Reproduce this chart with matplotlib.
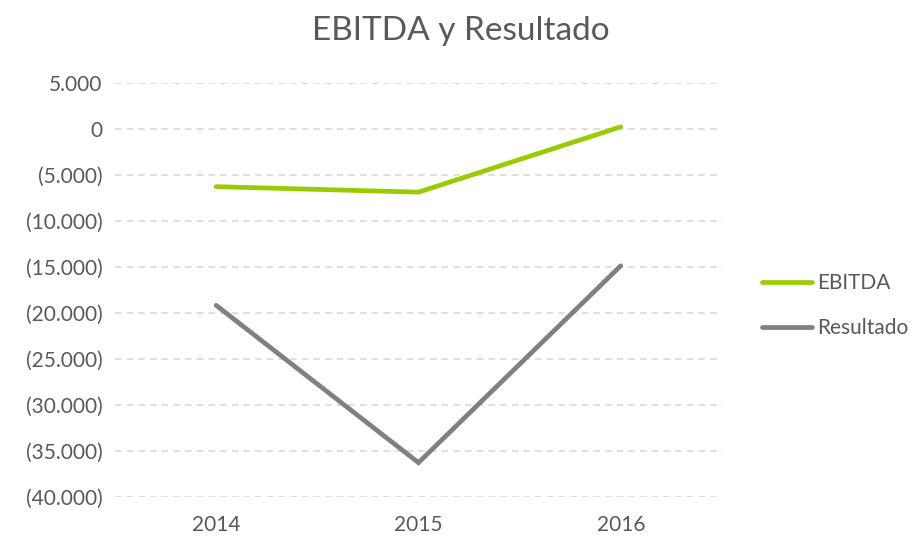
import matplotlib.pyplot as plt
from matplotlib.ticker import FuncFormatter

# data
years = ['2014', '2015', '2016']
ebitda = [-6300, -6900, 200]
resultado = [-19200, -36300, -14900]

TEXT = '#595959'
GREEN = '#99CC00'
GRAY = '#808080'

plt.rcParams['font.family'] = ['Lato', 'DejaVu Sans']


def fmt_es(v, pos):
    # spanish thousands separator, negatives in brackets
    s = f"{abs(int(round(v))):,}".replace(',', '.')
    return f"({s})" if v < 0 else s


fig = plt.figure(figsize=(9.22, 5.39), dpi=100)
ax = fig.add_axes([0.1247, 0.0785, 0.6583, 0.7681])

x = range(len(years))
ax.plot(x, ebitda, color=GREEN, lw=3.4, solid_capstyle='round', solid_joinstyle='miter', label='EBITDA')
ax.plot(x, resultado, color=GRAY, lw=3.4, solid_capstyle='round', solid_joinstyle='miter', label='Resultado')

ax.set_xlim(-0.5, 2.5)
ax.set_ylim(-40000, 5000)
ax.set_yticks(range(-40000, 5001, 5000))
ax.yaxis.set_major_formatter(FuncFormatter(fmt_es))
ax.set_xticks(list(x))
ax.set_xticklabels(years)

ax.grid(axis='y', color='#D9D9D9', lw=1.2, ls=(0, (4, 3)))
ax.set_axisbelow(True)
for sp in ax.spines.values():
    sp.set_visible(False)
ax.tick_params(length=0, labelsize=15, colors=TEXT, pad=9)
ax.tick_params(axis='x', pad=13)

fig.text(0.5, 0.943, 'EBITDA y Resultado', ha='center', va='center', fontsize=24, color=TEXT)

leg = ax.legend(loc='center left', bbox_to_anchor=(1.035, 0.462), frameon=False,
                fontsize=15, handlelength=2.4, handletextpad=0.25, labelspacing=1.2)
for t in leg.get_texts():
    t.set_color(TEXT)

fig.savefig('out.png', dpi=100)
